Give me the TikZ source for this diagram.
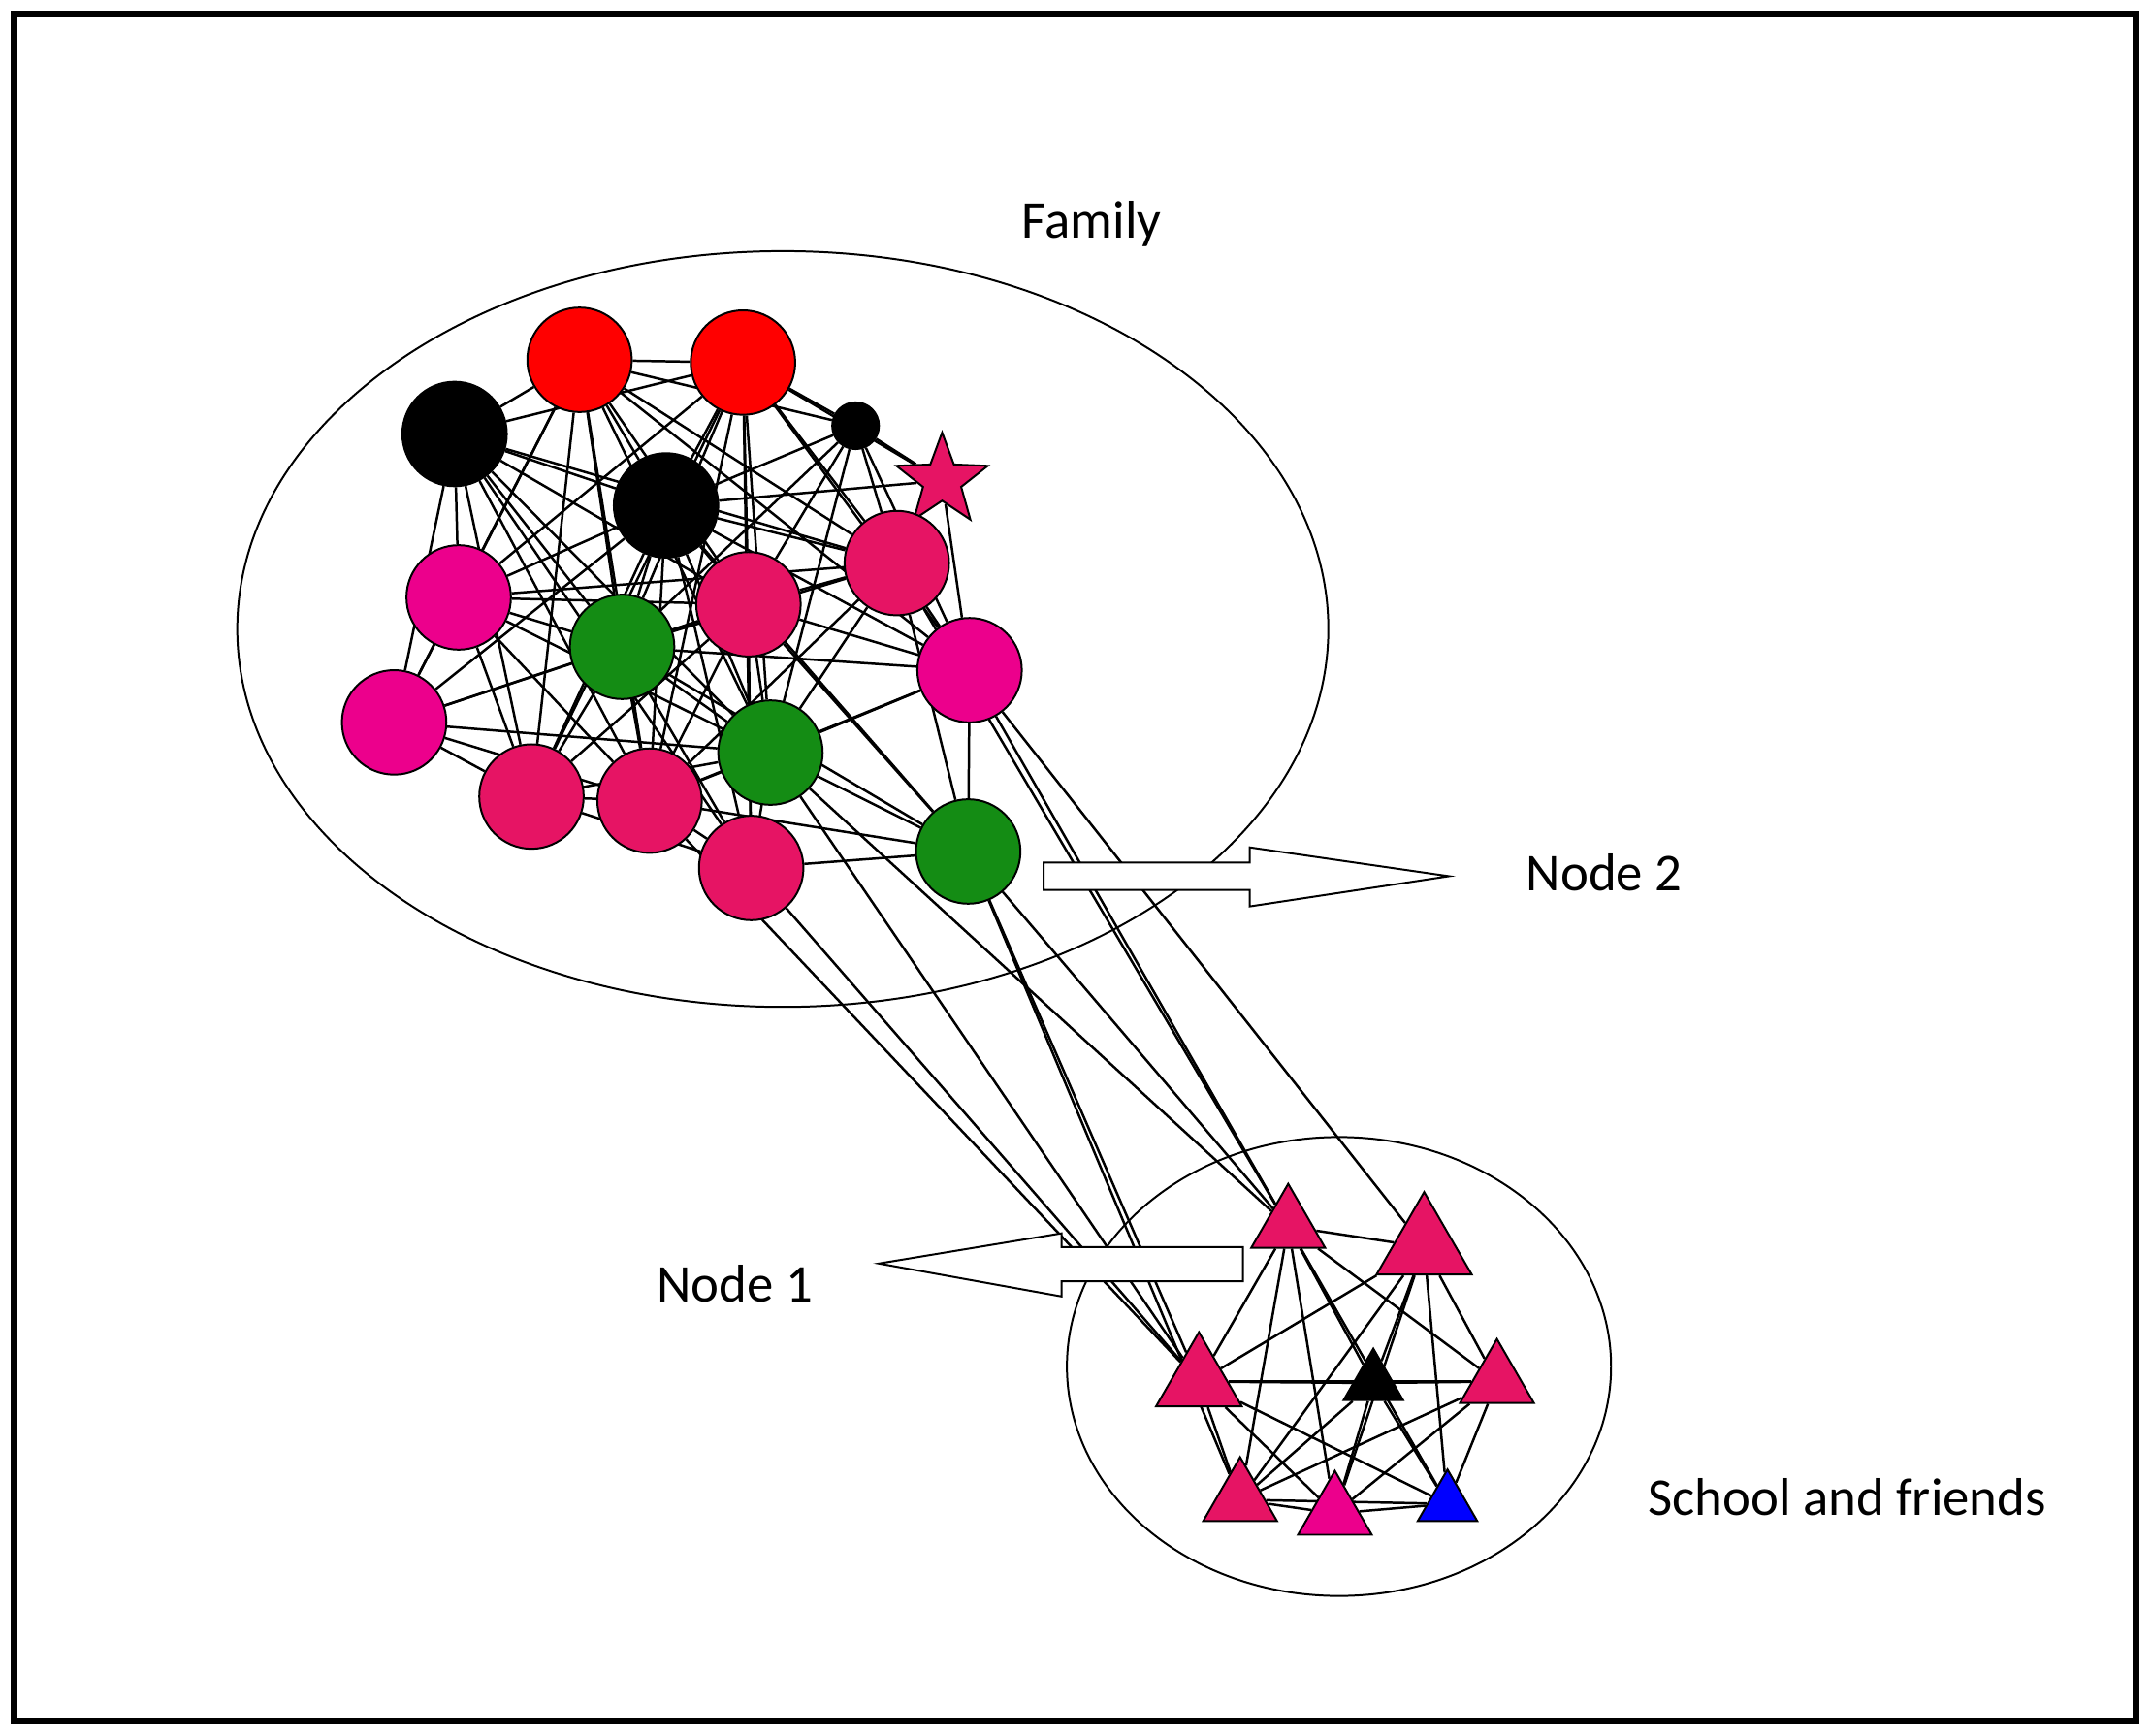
\documentclass[tikz,border=0pt]{standalone}
\usepackage{fontspec}
\setmainfont{Carlito}
\usetikzlibrary{shapes.geometric,backgrounds}
\definecolor{crimson}{RGB}{230,20,100}
\definecolor{leaf}{RGB}{20,140,20}
\tikzset{
  person/.style={circle,draw=black,inner sep=0pt,minimum size=0.76cm},
  pal/.style={regular polygon,regular polygon sides=3,draw=black,inner sep=0pt,minimum size=0.62cm},
  tie/.style={draw=black,line width=0.5pt},
  label/.style={font=\fontsize{11}{13}\selectfont}
}
\begin{document}
\begin{tikzpicture}[x=0.01cm,y=-0.01cm]
  \useasboundingbox (0,0) rectangle (1567,1264);
  \draw[line width=1.4pt] (10,10) rectangle (1555,1253);
  % groups
  \node[draw,ellipse,minimum width=7.94cm,minimum height=5.5cm] (fam) at (570,458) {};
  \node[draw,ellipse,minimum width=3.96cm,minimum height=3.34cm] (sch) at (975,995) {};
  \node[label] (famtext) at (795,163) {Family};
  \node[label] (n2text) at (1168,635) {Node 2};
  \node[label] (n1text) at (535,935) {Node 1};
  \node[label] (schtext) at (1345,1090) {School and friends};
  % family
  \begin{scope}[every node/.style={person}]
    \node[fill=red] (r1) at (422,262) {};
    \node[fill=red] (r2) at (541,264) {};
    \node[fill=black] (k1) at (331,316) {};
    \node[fill=black,minimum size=0.34cm] (k2) at (623,310) {};
    \node[fill=black] (k3) at (485,368) {};
    \node[star,star points=5,star point ratio=2.4,minimum size=0.7cm,fill=crimson] (s1) at (686,350) {};
    \node[fill=crimson] (p1) at (653,410) {};
    \node[fill=magenta] (m1) at (334,435) {};
    \node[fill=crimson] (p2) at (545,440) {};
    \node[fill=leaf] (g1) at (453,471) {};
    \node[fill=magenta] (m2) at (706,488) {};
    \node[fill=magenta] (m3) at (287,526) {};
    \node[fill=leaf] (g2) at (561,548) {};
    \node[fill=crimson] (p3) at (387,580) {};
    \node[fill=crimson] (p4) at (473,583) {};
    \node[fill=crimson] (p5) at (547,632) {};
    \node[fill=leaf] (g3) at (705,620) {};
  \end{scope}
  % school and friends
  \begin{scope}[every node/.style={pal}]
    \node[fill=crimson] (t1) at (938,893) {};
    \node[fill=crimson,minimum size=0.8cm] (t2) at (1037,908) {};
    \node[fill=crimson,minimum size=0.72cm] (t3) at (873,1006) {};
    \node[fill=black,minimum size=0.5cm] (t4) at (1000,1007) {};
    \node[fill=crimson] (t5) at (1090,1006) {};
    \node[fill=crimson] (t6) at (903,1092) {};
    \node[fill=magenta] (t7) at (972,1102) {};
    \node[fill=blue,minimum size=0.5cm] (t8) at (1054,1095) {};
  \end{scope}
  \begin{scope}[on background layer]
    \foreach \a/\rest in {r1/{r2,k1,k2,k3,p1,m1,p2,g1,m2,m3,g2,p3,p4},
        r2/{k1,k2,k3,s1,p1,m1,p2,g1,m2,g2,p3,p4,p5},
        k1/{k3,p1,m1,p2,g1,m3,g2,p3,p4,p5},
        k2/{k3,s1,p1,p2,g1,m2,g2},
        k3/{s1,p1,m1,p2,g1,m2,m3,g2,p3,p4,p5,g3},
        p1/{m1,p2,g1,m2,g2,p4,g3},
        m1/{p2,g1,m3,g2,p3,p4},
        p2/{g1,m2,m3,g2,p3,p4,p5,g3},
        g1/{m2,m3,g2,p3,p4,p5,g3},
        m2/{g2,p4,g3},
        m3/{g2,p3,p4},
        g2/{p3,p4,p5,g3},
        p3/{p4,p5},
        p4/{p5,g3},
        p5/{g3},
        s1/{m2}}
      \foreach \b in \rest \path[tie] (\a) -- (\b);
    \foreach \a/\b in {m2/t1,g3/t1,p1/t1,m2/t2,g3/t3,p5/t3,g2/t3,p4/t3,g3/t6,g2/t1}
      \path[tie] (\a) -- (\b);
    \foreach \a/\rest in {t1/{t2,t3,t4,t5,t6,t7,t8},t2/{t3,t4,t5,t6,t7,t8},
        t3/{t4,t5,t6,t7,t8},t4/{t5,t6,t7,t8},t5/{t6,t7,t8},t6/{t7,t8},t7/{t8}}
      \foreach \b in \rest \path[tie] (\a) -- (\b);
  \end{scope}
  % block arrows
  \draw[fill=white] (760,628) -- (910,628) -- (910,617) -- (1055,638)
    -- (910,660) -- (910,648) -- (760,648) -- cycle;
  \draw[fill=white] (905,908) -- (773,908) -- (773,898) -- (640,920)
    -- (773,944) -- (773,933) -- (905,933) -- cycle;
\end{tikzpicture}
\end{document}
